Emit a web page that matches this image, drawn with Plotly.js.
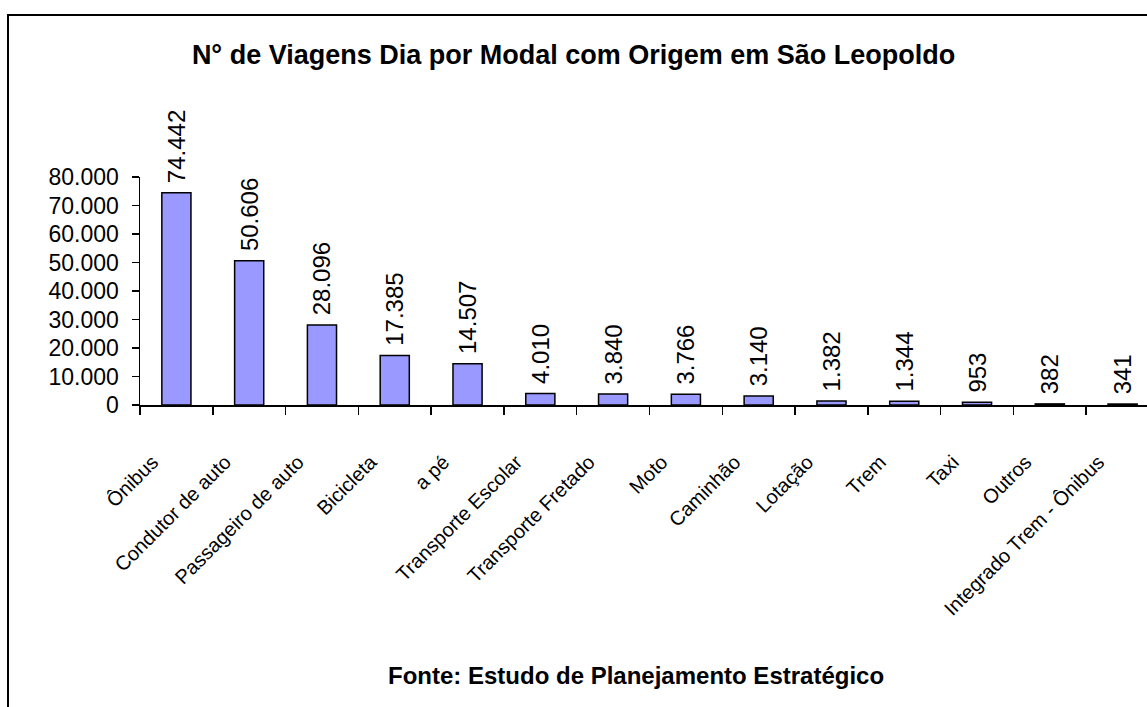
<!DOCTYPE html>
<html>
<head>
<meta charset="utf-8">
<script src="https://cdn.plot.ly/plotly-3.0.1.min.js"></script>
<style>
  html, body { margin: 0; padding: 0; background: #fff; overflow: hidden; width: 1147px; height: 707px; }
  #chart { position: absolute; left: 0; top: 0; width: 1200px; height: 707px; }
  #frame { position: absolute; left: 7px; top: 14px; width: 1300px; height: 800px;
           border-left: 2px solid #000; border-top: 2px solid #000; pointer-events: none; }
</style>
</head>
<body>
<div id="chart"></div>
<div id="frame"></div>
<script>
const categories = [
  "Ônibus", "Condutor de auto", "Passageiro de auto", "Bicicleta", "a pé",
  "Transporte Escolar", "Transporte Fretado", "Moto", "Caminhão", "Lotação",
  "Trem", "Taxi", "Outros", "Integrado Trem - Ônibus"
];
const viagens = [74442, 50606, 28096, 17385, 14507, 4010, 3840, 3766, 3140, 1382, 1344, 953, 382, 341];
const yTicks = [0, 10000, 20000, 30000, 40000, 50000, 60000, 70000, 80000];
const titleText = "N° de Viagens Dia por Modal com Origem em São Leopoldo";
const sourceText = "Fonte: Estudo de Planejamento Estratégico";

const FONT = "Liberation Sans, Arial, sans-serif";

const trace = {
  type: "bar",
  x: categories,
  y: viagens,
  marker: { color: "#9999FF", line: { color: "#000000", width: 1.5 } },
  texttemplate: "\u00a0%{y:,}",
  textposition: "outside",
  textangle: -90,
  constraintext: "none",
  cliponaxis: false,
  textfont: { family: FONT, size: 24, color: "#000000" },
  hoverinfo: "x+y"
};

const layout = {
  width: 1200,
  height: 707,
  margin: { l: 140, r: 41, t: 177, b: 302, pad: 0 },
  paper_bgcolor: "#ffffff",
  plot_bgcolor: "#ffffff",
  separators: ",.",
  bargap: 0.6,
  showlegend: false,
  font: { family: FONT, color: "#000000" },
  title: {
    text: titleText,
    font: { family: FONT, size: 27, color: "#000000", weight: "bold" },
    xref: "container", x: 0.478, xanchor: "center",
    yref: "container", y: 1 - 55 / 707, yanchor: "middle"
  },
  xaxis: {
    type: "category",
    showline: true, linecolor: "#000000", linewidth: 1.5,
    ticks: "outside", ticklen: 8, tickwidth: 1.5, tickcolor: "#000000",
    tickson: "boundaries",
    tickangle: -45,
    ticklabelstandoff: 36,
    ticklabelshift: -24,
    tickfont: { family: FONT, size: 20, color: "#000000" },
    showgrid: false, zeroline: false,
    fixedrange: true
  },
  yaxis: {
    range: [0, 80000],
    tickvals: yTicks,
    tickformat: ",",
    showline: true, linecolor: "#000000", linewidth: 1.5,
    ticks: "outside", ticklen: 7, tickwidth: 1.5, tickcolor: "#000000",
    ticklabelstandoff: 8,
    tickfont: { family: FONT, size: 23, color: "#000000" },
    showgrid: false, zeroline: false,
    fixedrange: true
  },
  annotations: [{
    text: sourceText,
    showarrow: false,
    xref: "paper", x: (635.5 - 140) / 1019, xanchor: "center",
    yref: "paper", y: (405 - 675) / 228, yanchor: "middle",
    font: { family: FONT, size: 24, color: "#000000", weight: "bold" }
  }]
};

Plotly.newPlot("chart", [trace], layout, { staticPlot: true, displayModeBar: false });
</script>
</body>
</html>
